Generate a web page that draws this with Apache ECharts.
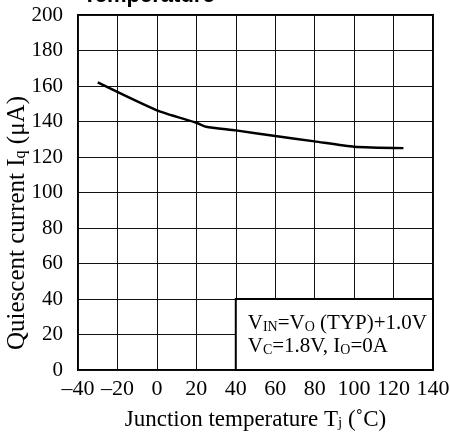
<!DOCTYPE html>
<html>
<head>
<meta charset="utf-8">
<script src="https://cdn.jsdelivr.net/npm/echarts@6/dist/echarts.min.js"></script>
<style>html,body{margin:0;padding:0;background:#fff}#c{width:450px;height:434px}</style>
</head>
<body>
<div id="c"></div>
<script>
var temps = [-30, 0, 20, 25, 40, 60, 80, 100, 125];
var currents = [162, 146.3, 139.3, 137, 135, 131.8, 128.8, 125.8, 125];
var xTicks = {min: -40, max: 140, interval: 20};
var yTicks = {min: 0, max: 200, interval: 20};
var titleText = 'Temperature';
var xName = 'Junction temperature T{sub|j} (˚C)';
var yName = 'Quiescent current I{sub|q} (μA)';
var noteLines = ['V{s|IN}=V{s|O} (TYP)+1.0V', 'V{s|C}=1.8V, I{s|O}=0A'];
var noteBox = [[40, 0], [140, 40]];

var serif = '"Liberation Serif", "DejaVu Serif", serif';
var chart = echarts.init(document.getElementById('c'));
chart.setOption({
  animation: false,
  backgroundColor: '#fff',
  grid: {left: 78, right: 17, top: 15, bottom: 64, show: true, borderColor: '#000', borderWidth: 2,
         backgroundColor: 'transparent', outerBoundsMode: 'none', containLabel: false},
  graphic: [{
    type: 'text', left: 83, top: -15, z: 10,
    style: {text: titleText, font: 'bold 22px "Liberation Sans", Arial, sans-serif', fill: '#000'}
  }, {
    type: 'text', x: 17, y: 223, rotation: Math.PI / 2, z: 10,
    style: {text: yName, fontFamily: serif, fontSize: 25, fill: '#000', align: 'center', verticalAlign: 'middle',
            rich: {sub: {fontFamily: serif, fontSize: 16, fill: '#000', padding: [8, 0, 0, 0]}}}
  }],
  xAxis: {
    type: 'value', min: xTicks.min, max: xTicks.max, interval: xTicks.interval,
    name: xName, nameLocation: 'middle', nameGap: 38,
    nameTextStyle: {fontFamily: serif, fontSize: 23, color: '#000', rich: {sub: {fontFamily: serif, fontSize: 15, color: '#000', padding: [8, 0, 0, 0]}}},
    axisLine: {show: false}, axisTick: {show: false},
    axisLabel: {fontFamily: serif, fontSize: 22, color: '#000', margin: 8,
      formatter: function (v) { return String(v).replace('-', '\u2013'); }},
    splitLine: {show: true, lineStyle: {color: '#111', width: 1}}
  },
  yAxis: {
    type: 'value', min: yTicks.min, max: yTicks.max, interval: yTicks.interval,
    axisLine: {show: false}, axisTick: {show: false},
    axisLabel: {fontFamily: serif, fontSize: 21, color: '#000', margin: 15},
    splitLine: {show: true, lineStyle: {color: '#111', width: 1}}
  },
  series: [{
    type: 'line', data: temps.map(function (t, i) { return [t, currents[i]]; }),
    showSymbol: false, smooth: 0.2,
    lineStyle: {color: '#000', width: 2.5},
    markArea: {
      silent: true,
      itemStyle: {color: '#fff', borderColor: '#000', borderWidth: 2},
      label: {
        show: true, position: 'insideLeft', distance: 13,
        formatter: noteLines.join('\n'),
        fontFamily: serif, fontSize: 21, color: '#000', lineHeight: 23,
        rich: {s: {fontFamily: serif, fontSize: 14, color: '#000', lineHeight: 18, verticalAlign: 'bottom'}}
      },
      data: [[{coord: noteBox[0]}, {coord: noteBox[1]}]]
    }
  }]
});
</script>
</body>
</html>
